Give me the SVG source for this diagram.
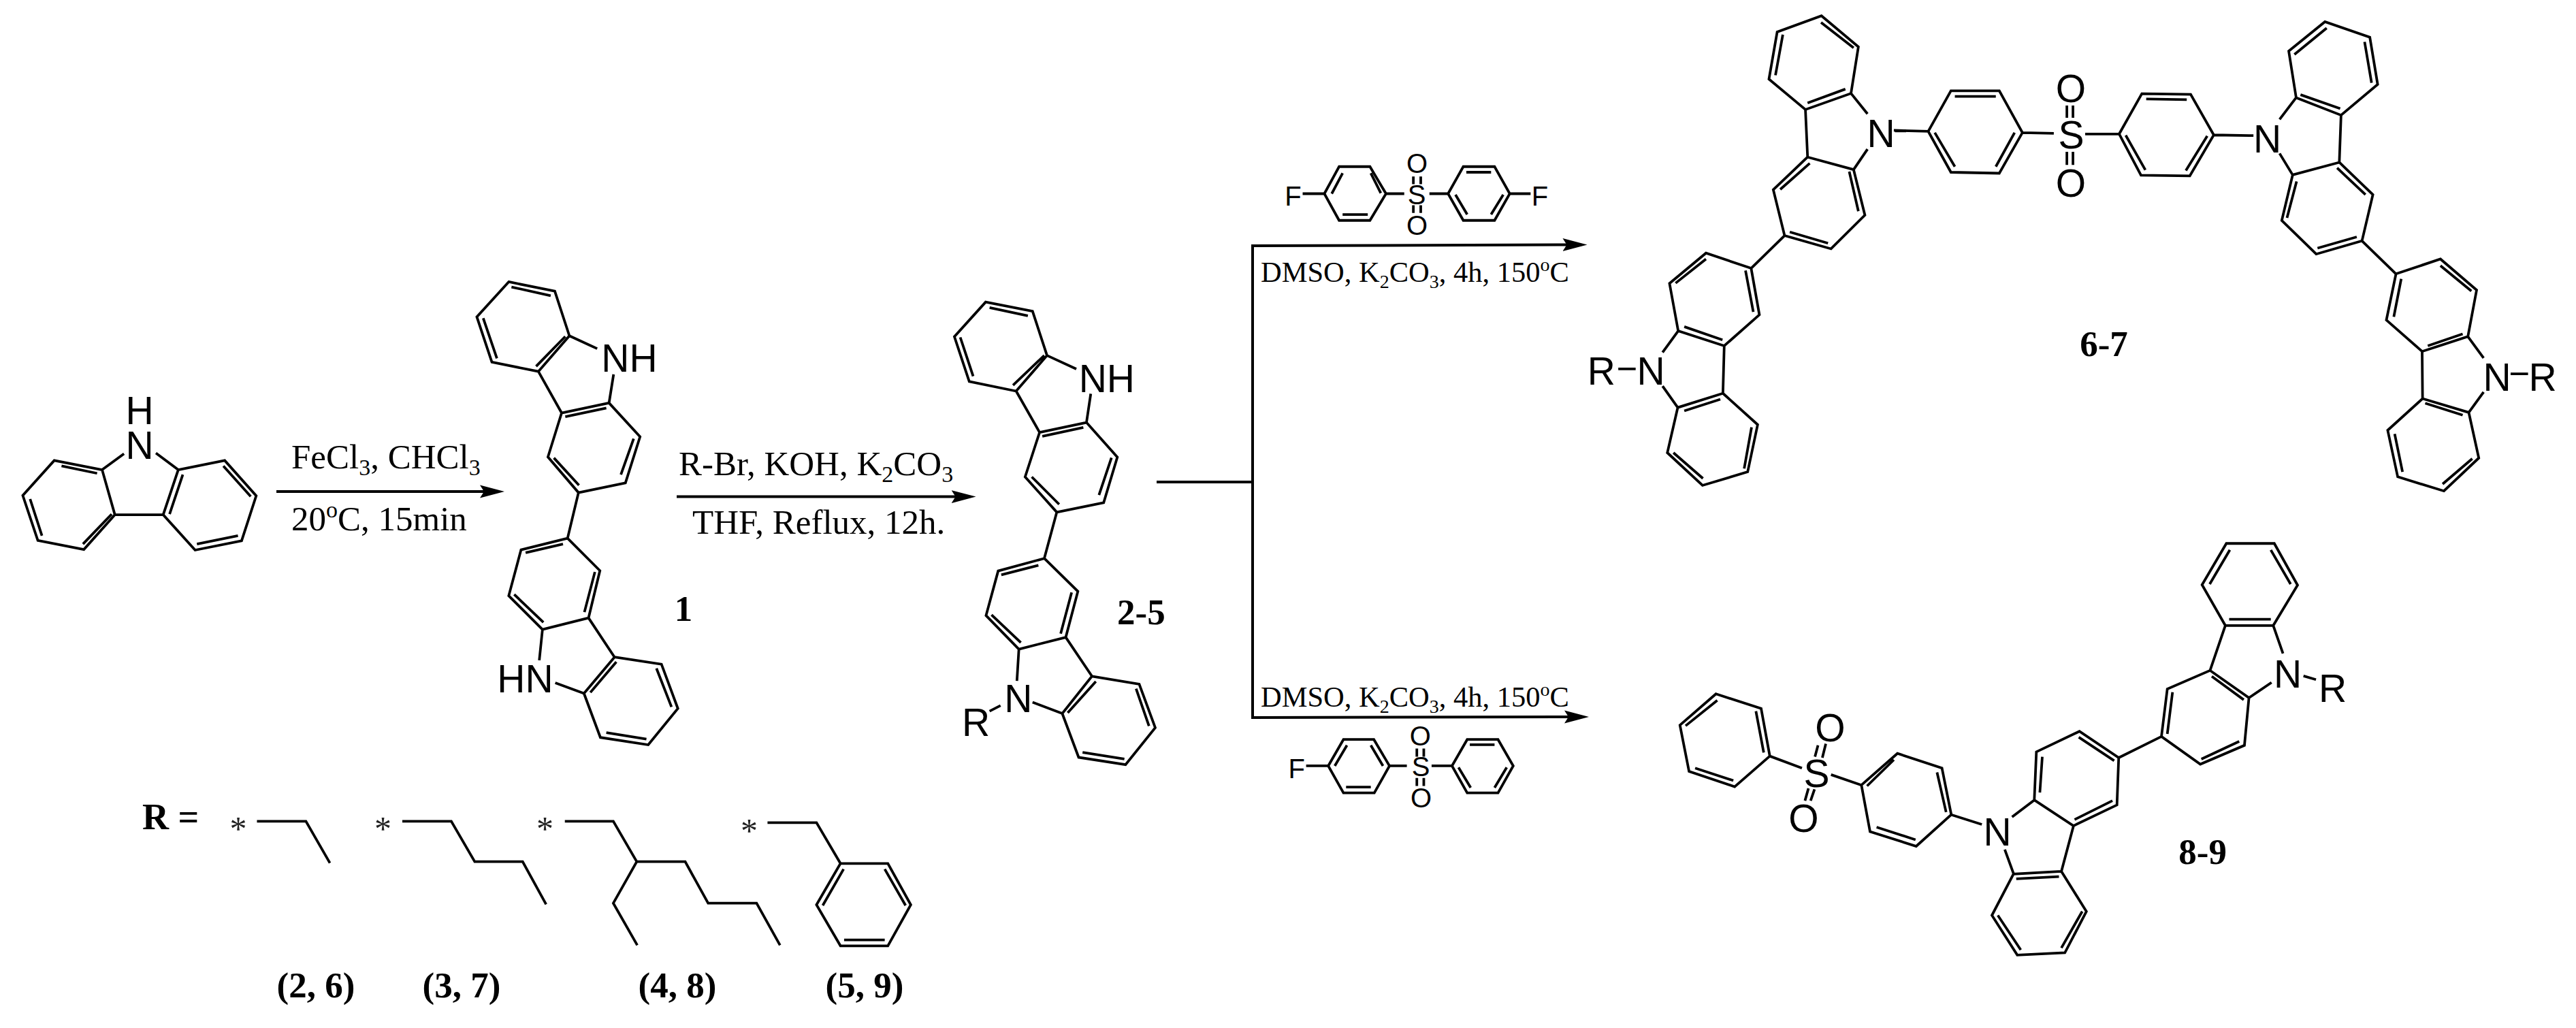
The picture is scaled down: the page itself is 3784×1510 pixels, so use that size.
<svg xmlns="http://www.w3.org/2000/svg" width="3784" height="1510" viewBox="0 0 3784 1510">
<style>
.b{fill:none;stroke:#000;stroke-width:3.8;stroke-linejoin:miter;stroke-linecap:butt;vector-effect:non-scaling-stroke}
.a{font-family:"Liberation Sans",Arial,sans-serif;font-size:57px;text-anchor:middle;fill:#000}
.r{font-size:40px}
.t{font-family:"Liberation Serif","Times New Roman",serif;font-size:51px;fill:#000}
.d{font-size:42.5px}
.l{font-family:"Liberation Serif","Times New Roman",serif;font-weight:bold;font-size:53px;text-anchor:middle;fill:#000}
.s{font-family:"Liberation Serif","Times New Roman",serif;font-size:50px;text-anchor:middle;fill:#222}
.c{fill:none;stroke:#000;stroke-width:4}
</style>
<defs>
<marker id="head" markerUnits="userSpaceOnUse" markerWidth="44" markerHeight="26" refX="26" refY="13" orient="auto">
<path d="M0,3.5 L36,13 L0,22.5 L6,13 Z" fill="#000"/>
</marker>
</defs>
<rect width="3784" height="1510" fill="#fff"/>
<g id="connectors">
<path class="c" d="M406,722H731" marker-end="url(#head)"/>
<path class="c" d="M994,729.6H1423.6" marker-end="url(#head)"/>
<path class="c" d="M1699,708H1840"/>
<path class="c" d="M1840,708V361L2321.5,359.5" marker-end="url(#head)"/>
<path class="c" d="M1840,708V1054L2324,1053" marker-end="url(#head)"/>
</g>
<g id="conditions">
<text class="t" x="428" y="688">FeCl<tspan font-size="34" dy="10">3</tspan><tspan dy="-10">, CHCl</tspan><tspan font-size="34" dy="10">3</tspan></text>
<text class="t" x="428" y="779">20<tspan font-size="34" dy="-19">o</tspan><tspan dy="19">C, 15min</tspan></text>
<text class="t" x="997" y="698">R-Br, KOH, K<tspan font-size="34" dy="10">2</tspan><tspan dy="-10">CO</tspan><tspan font-size="34" dy="10">3</tspan></text>
<text class="t" x="1017" y="784">THF, Reflux, 12h.</text>
<text class="t d" x="1852" y="414">DMSO, K<tspan font-size="28" dy="9">2</tspan><tspan dy="-9">CO</tspan><tspan font-size="28" dy="9">3</tspan><tspan dy="-9">, 4h, 150</tspan><tspan font-size="28" dy="-16">o</tspan><tspan dy="16">C</tspan></text>
<text class="t d" x="1852" y="1038">DMSO, K<tspan font-size="28" dy="9">2</tspan><tspan dy="-9">CO</tspan><tspan font-size="28" dy="9">3</tspan><tspan dy="-9">, 4h, 150</tspan><tspan font-size="28" dy="-16">o</tspan><tspan dy="16">C</tspan></text>
</g>
<g id="carbazole">
<path class="b" transform="translate(0,380) scale(.66964,.47194)" d="M224,657L119,628L50,737L83,877L184,905L252,797ZM391,657L493,628L562,738L530,878L428,907L358,797ZM252,797H358M224,657L272,607M391,657L342,605M135,645L213,668M66,748L92,862M182,888L245,795M401,672L372,795M490,645L550,740M432,888L522,862"/>
<text class="a" x="205" y="623">H</text>
<text class="a" x="205" y="673.5">N</text>
</g>
<g id="compound-1">
<path class="b" transform="translate(0,380) scale(.66964,.47194)" d="M1116,72L1217,101L1249,240L1181,351L1079,322L1046,181ZM1232,480L1336,449L1404,554L1372,698L1269,728L1202,617ZM1245,870L1143,906L1116,1049L1190,1154L1291,1118L1316,971ZM1348,1240L1451,1262L1487,1400L1422,1513L1317,1490L1281,1353ZM1249,240L1310,280M1181,351L1232,480M1336,449L1346,360M1269,728L1245,870M1291,1118L1348,1240M1190,1154L1183,1250M1281,1353L1218,1320M1122,88L1208,115M1060,185L1090,310M1176,335L1240,242M1240,492L1330,465M1390,560L1362,672M1215,620L1270,705M1153,915L1235,888M1128,1045L1192,1132M1305,975L1282,1100M1352,1255L1295,1350M1440,1275L1473,1395M1330,1475L1418,1495"/>
<text class="a" x="924.5" y="546">NH</text>
<text class="a" x="771.5" y="1017">HN</text>
<text class="l" x="1004" y="912">1</text>
</g>
<g id="compound-2-5">
<path class="b" transform="translate(960,400) scale(.57398,.48469)" d="M850,90L970,118L1007,252L928,360L808,331L770,195ZM988,485L1108,455L1187,560L1152,698L1032,727L951,620ZM1000,867L882,905L851,1040L935,1142L1055,1106L1086,967ZM1122,1224L1243,1248L1284,1380L1208,1492L1088,1470L1046,1337ZM1007,252L1082,293M928,360L988,485M1108,455L1119,368M1032,727L1000,867M1055,1106L1122,1224M935,1142L930,1238M1046,1337L970,1303M888,1313L860,1330M860,107L958,132M785,197L818,315M920,342L1000,252M995,497L1100,470M1172,562L1140,675M968,620L1038,703M890,917L985,888M865,1038L940,1122M1070,970L1042,1095M1132,1240L1060,1335M1235,1262L1268,1375M1098,1455L1205,1475"/>
<text class="a" x="1625.8" y="575.5">NH</text>
<text class="a" x="1495.8" y="1046">N</text>
<text class="a" x="1433.6" y="1081">R</text>
<text class="l" x="1676.4" y="917">2-5</text>
</g>
<g id="reagent-difluoro">
<path class="b" transform="translate(1800,0) scale(.63776,.48469)" d="M228,587L262,505H333L370,587L333,668H262ZM513,587L548,505H620L655,587L620,668H548ZM245,587L270,525M335,525L358,585M270,650H328M555,522H612M530,590L557,650M640,590L612,650M178,587H228M370,587H412M470,587H513M655,587H703M433,535V558M450,535V558M433,622V645M450,622V645"/>
<text class="a r" x="1899.5" y="301.5">F</text>
<text class="a r" x="2081" y="300">S</text>
<text class="a r" x="2081.6" y="254">O</text>
<text class="a r" x="2081.6" y="345">O</text>
<text class="a r" x="2262" y="301.5">F</text>
</g>
<g id="compound-6-7">
<path class="b" transform="translate(1800,0) scale(.63776,.48469)" d="M1373,48L1458,142L1441,283L1336,332L1252,240L1271,97ZM1341,476L1447,514L1473,652L1395,754L1288,714L1262,575ZM1211,813L1107,767L1023,859L1043,1003L1149,1048L1230,954ZM1146,1192L1042,1235L1018,1372L1099,1471L1203,1430L1226,1287ZM1372,68L1447,145M1284,105L1267,228M1341,312L1428,270M1441,283L1479,345M1336,332L1341,476M1447,514L1479,452M1346,495L1278,574M1437,520L1458,640M1300,703L1388,737M1288,714L1211,813M1107,785L1037,858M1057,990L1145,1030M1198,820L1216,945M1043,1003L1007,1068M1149,1048L1146,1192M1042,1235L1007,1170M1057,1245L1140,1210M1032,1372L1100,1450M1195,1420L1212,1295M905,1118H945M1542,397H1568"/>
<path class="b" transform="translate(2780,0) scale(.64031,.48469)" d="M3,395L82,398M82,398L134,275H245L298,402L245,525L134,522ZM143,292H237M97,402L143,505M280,402L237,505M298,402L370,404M400,320V357M414,320V357M400,460V500M414,460V500M442,406H520M520,406L572,284L684,286L737,409L682,533L570,531ZM582,300L675,302M535,410L580,515M722,412L673,517M737,409L828,411M888,362L926,296M888,465L918,530M926,296L1029,349L1113,256L1095,113L992,66L909,155ZM936,287L1027,329M1099,251L1083,127M996,85L922,165M1029,349L1025,492M1025,492L918,530L893,668L972,770L1077,730L1102,590ZM1020,509L1085,590M927,550L905,660M975,752L1065,718M1077,730L1155,830M1155,830L1257,785L1340,879L1320,1020L1215,1065L1133,970ZM1257,805L1328,882M1228,1048L1308,1012M1167,845L1150,960M1320,1020L1356,1085M1215,1065L1216,1208M1322,1250L1356,1188M1216,1208L1322,1250L1345,1388L1265,1488L1159,1445L1136,1304ZM1222,1222L1308,1258M1330,1390L1262,1467M1170,1430L1152,1315M1418,1133H1458"/>
<text class="a" x="2352.3" y="565">R</text>
<text class="a" x="2425" y="565">N</text>
<text class="a" x="2763" y="215.7">N</text>
<text class="a" x="3042.5" y="218">S</text>
<text class="a" x="3041.8" y="150">O</text>
<text class="a" x="3041.8" y="289">O</text>
<text class="a" x="3330.6" y="224">N</text>
<text class="a" x="3668" y="574">N</text>
<text class="a" x="3735" y="574">R</text>
<text class="l" x="3090.5" y="522.5">6-7</text>
</g>
<g id="reagent-monofluoro">
<path class="b" transform="translate(1800,760) scale(.63776,.47832)" d="M237,763L272,682H342L378,763L343,846H272ZM522,763L557,682H628L663,763L628,846H557ZM252,763L280,700M335,700L363,763M278,828H335M563,698H620M537,768L565,830M648,768L620,830M186,763H237M378,763H418M475,763H522M441,710V735M457,710V735M441,800V825M457,800V825"/>
<text class="a r" x="1904.6" y="1142.6">F</text>
<text class="a r" x="2087" y="1140">S</text>
<text class="a r" x="2086.3" y="1094.8">O</text>
<text class="a r" x="2087.5" y="1185.6">O</text>
</g>
<g id="compound-8-9">
<path class="b" transform="translate(1800,760) scale(.63776,.47832)" d="M1130,542L1234,587L1254,733L1173,827L1068,780L1047,638ZM1133,562L1060,640M1222,595L1240,722M1082,770L1170,808M1254,733L1328,770M1395,790L1465,822M1365,700L1358,735M1383,695L1375,738M1343,832L1335,870M1357,835L1348,870"/>
<path class="b" d="M2734.3,1153.1L2787.2,1106.7L2852.6,1128.2L2866.3,1196.6L2814.8,1243L2747,1221.5ZM2742.6,1154.5L2782,1116M2845.4,1134.5L2858.7,1192.8M2756.6,1215L2813.8,1233.5"/>
<path class="b" transform="translate(2750,760) scale(.5102,.47832)" d="M228,913L316,943M403,920L467,868M382,1020L407,1093M467,868L580,947L705,883L710,738L597,657L473,720ZM583,928L692,870M490,735L483,845M595,675L697,747M710,738L833,673M580,947L545,1087M545,1087L407,1095L345,1222L418,1344L555,1337L617,1210ZM415,1110L538,1103M362,1222L428,1328M605,1210L545,1322M833,673L850,527L973,470L1085,554L1072,700L945,758ZM865,537L850,665M978,488L1070,560M948,742L1057,688M973,470L1017,332M1085,554L1150,507M1155,332L1183,418M1017,332L950,207L1020,80H1158L1225,208L1155,332ZM1028,313H1148M972,205L1030,100M1148,100L1205,205M1242,487L1278,498"/>
<text class="a" x="2668.6" y="1156">S</text>
<text class="a" x="2688.4" y="1089">O</text>
<text class="a" x="2649.5" y="1221.5">O</text>
<text class="a" x="2934" y="1242">N</text>
<text class="a" x="3360.7" y="1009.6">N</text>
<text class="a" x="3426.5" y="1031">R</text>
<text class="l" x="3235.7" y="1269">8-9</text>
</g>
<g id="r-groups">
<text class="l" x="209" y="1218" style="text-anchor:start;font-size:54px">R =</text>
<g id="r-ethyl">
<text class="s" x="350" y="1234">*</text>
<path class="b" transform="translate(180,1100) scale(.7653,.33333)" d="M258,319H352L398,503"/>
<text class="l" x="464" y="1465">(2, 6)</text>
</g>
<g id="r-butyl">
<text class="s" x="562.6" y="1234">*</text>
<path class="b" transform="translate(180,1100) scale(.7653,.33333)" d="M537,319H631L676,497H768L813,685"/>
<text class="l" x="678" y="1465">(3, 7)</text>
</g>
<g id="r-ethylhexyl">
<text class="s" x="800.5" y="1234">*</text>
<path class="b" transform="translate(180,1100) scale(.7653,.33333)" d="M849,319H942L987,497H1080L1124,680H1217L1262,865M987,497L942,680L988,865"/>
<text class="l" x="995" y="1465">(4, 8)</text>
</g>
<g id="r-benzyl">
<text class="s" x="1100.4" y="1237">*</text>
<path class="b" transform="translate(180,1100) scale(.7653,.33333)" d="M1238,325H1332L1378,505M1378,505H1469L1513,687L1469,868H1378L1332,687ZM1384,530L1344,690M1463,530L1503,690M1385,842H1463"/>
<text class="l" x="1270" y="1465">(5, 9)</text>
</g>
</g>
</svg>
